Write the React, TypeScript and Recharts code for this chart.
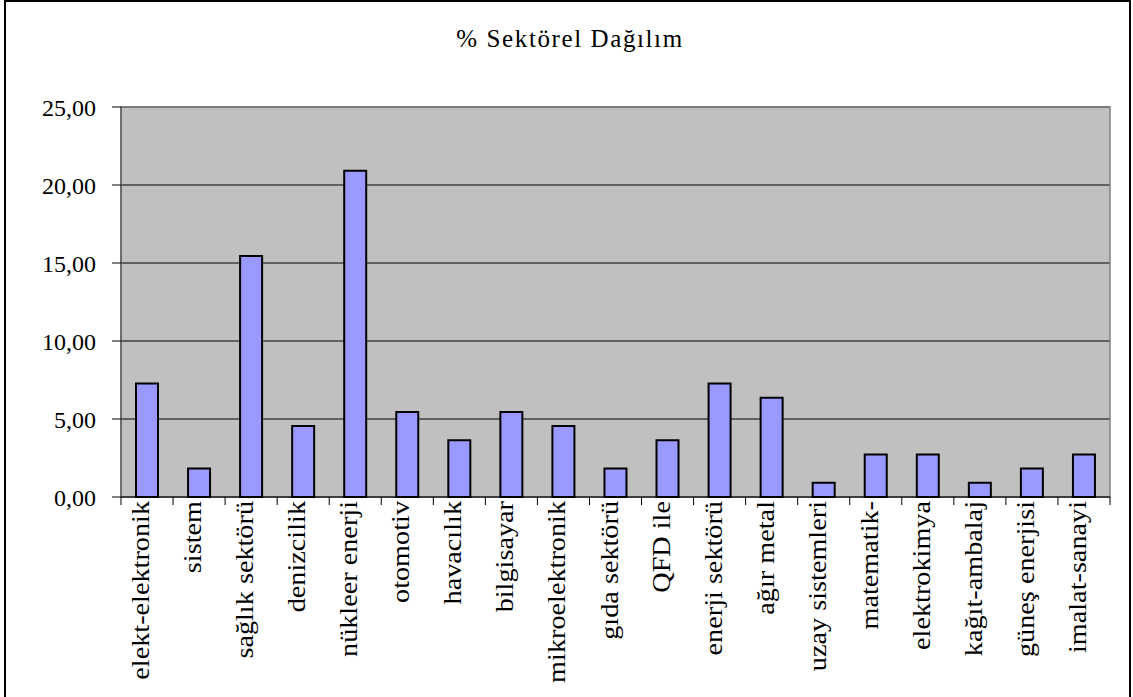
import React from 'react'
import { BarChart, Bar, XAxis, YAxis, CartesianGrid, ReferenceArea } from 'recharts'

const CATEGORIES = [
  'elekt-elektronik', 'sistem', 'sağlık sektörü', 'denizcilik', 'nükleer enerji',
  'otomotiv', 'havacılık', 'bilgisayar', 'mikroelektronik', 'gıda sektörü',
  'QFD ile', 'enerji sektörü', 'ağır metal', 'uzay sistemleri', 'matematik-',
  'elektrokimya', 'kağıt-ambalaj', 'güneş enerjisi', 'imalat-sanayi',
]
const SHARES = [
  7.27, 1.82, 15.45, 4.55, 20.91,
  5.45, 3.64, 5.45, 4.55, 1.82,
  3.64, 7.27, 6.36, 0.91, 2.73,
  2.73, 0.91, 1.82, 2.73,
]
const Y_TICKS = [0, 5, 10, 15, 20, 25]
const TITLE = '% Sektörel Dağılım'

const W = 1133
const H = 697
const MARGIN = { top: 107, right: 23, left: 0, bottom: 0 }
const Y_AXIS_W = 121
const X_AXIS_H = 200
const PLOT_W = W - Y_AXIS_W - MARGIN.right
const SERIF = '"Liberation Serif", "Times New Roman", serif'
const BAR_FILL = '#9999FF'
const PLOT_BG = '#C0C0C0'
const TICK_GAP = 4

const data = CATEGORIES.map((name, i) => ({ name, value: SHARES[i] }))

// category label: rotated, a bit stretched along the text like the original
function CategoryTick(props: any) {
  const { x, y, payload, index } = props
  const half = PLOT_W / CATEGORIES.length / 2
  const axisY = y - TICK_GAP
  const last = index === CATEGORIES.length - 1
  return (
    <g>
      <line x1={x - half} x2={x - half} y1={axisY} y2={axisY + 8} stroke="#000" />
      {last && <line x1={x + half} x2={x + half} y1={axisY} y2={axisY + 8} stroke="#000" />}
      <text
        x={0}
        y={0}
        dy={2}
        textAnchor="end"
        transform={`translate(${x}, ${y}) rotate(-90) scale(1.13, 1)`}
        fill="#000"
        fontSize={25}
        fontFamily={SERIF}
      >
        {payload.value}
      </text>
    </g>
  )
}

export default function App() {
  return (
    <div style={{ position: 'absolute', left: 0, top: 0, width: W, height: H, overflow: 'hidden', background: '#fff', fontFamily: SERIF }}>
      {/* outer frame */}
      <div style={{ position: 'absolute', left: 4, top: 0, width: 1127, height: 704, border: '2px solid #000', boxSizing: 'border-box' }} />

      <div style={{ position: 'absolute', left: 0, top: 26, width: 1140, textAlign: 'center', fontSize: 25, lineHeight: 1, letterSpacing: 1.6, color: '#000' }}>
        {TITLE}
      </div>

      <div style={{ position: 'absolute', left: 0, top: 0 }}>
        <BarChart width={W} height={H} data={data} margin={MARGIN} barSize={22}>
          <CartesianGrid vertical={false} stroke="#000" fill={PLOT_BG} fillOpacity={1} />
          <ReferenceArea y1={0} y2={25} fill="none" stroke="#808080" strokeWidth={1.5} ifOverflow="visible" />
          <XAxis
            dataKey="name"
            interval={0}
            height={X_AXIS_H}
            axisLine={{ stroke: '#000' }}
            tickLine={false}
            tickSize={0}
            tickMargin={TICK_GAP}
            tick={<CategoryTick />}
          />
          <YAxis
            domain={[0, 25]}
            ticks={Y_TICKS}
            width={Y_AXIS_W}
            tickSize={9}
            tickMargin={16}
            axisLine={{ stroke: '#404040' }}
            tickLine={{ stroke: '#000' }}
            tick={{ fill: '#000', fontSize: 24, fontFamily: SERIF }}
            tickFormatter={(v: number) => v.toFixed(2).replace('.', ',')}
          />
          <Bar dataKey="value" fill={BAR_FILL} stroke="#000" strokeWidth={2} isAnimationActive={false} />
        </BarChart>
      </div>
    </div>
  )
}
